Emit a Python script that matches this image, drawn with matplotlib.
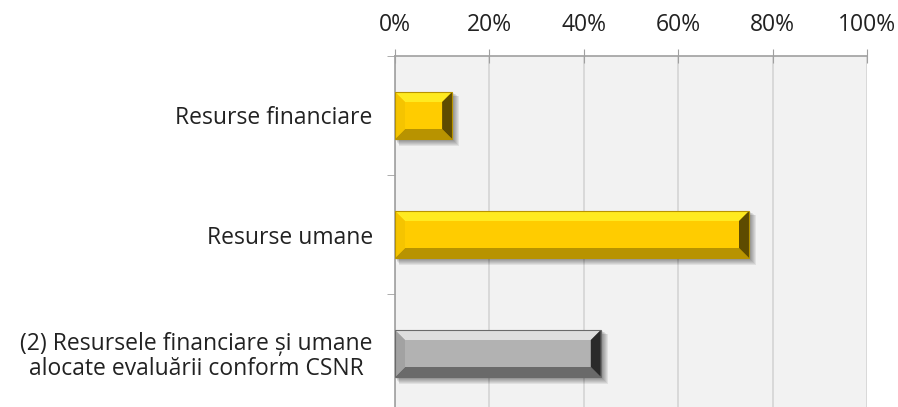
import matplotlib.pyplot as plt
from matplotlib.patches import Polygon, Rectangle
import numpy as np

plt.rcParams['font.family'] = ['Open Sans', 'DejaVu Sans']

categories = ['Resurse financiare', 'Resurse umane',
              '(2) Resursele financiare și umane\nalocate evaluării conform CSNR']
values = [12.1, 75.0, 43.6]
colors = ['gold', 'gold', 'gray']
ticks = [0, 20, 40, 60, 80, 100]

# culori bisel: cara, arriba, abajo, izquierda, derecha
palettes = {
    'gold': ['#FFCC00', '#FFEA20', '#B89300', '#F5C400', '#5E4B00'],
    'gray': ['#B2B2B2', '#DEDEDE', '#6A6A6A', '#A2A2A2', '#2A2A2A'],
}

W, H, dpi = 8.98, 4.07, 100
fig = plt.figure(figsize=(W, H), dpi=dpi)
left, right, top, bottom = 395, 867, 56, 413
ax = fig.add_axes([left / 898, 1 - bottom / 407, (right - left) / 898, (bottom - top) / 407])
ax.set_facecolor('#F2F2F2')

ax.set_xlim(0, 100)
ax.set_ylim(len(categories) - 0.5, -0.5)

# pixeles -> datos
px_x = 100 / (right - left)
px_y = len(categories) / (bottom - top)
bev = 10
h = 0.395

for i, (v, c) in enumerate(zip(values, colors)):
    face, up, down, lft, rgt = palettes[c]
    y0, y1 = i - h / 2, i + h / 2
    # sombra
    for k in range(6):
        off = 2 + k
        ax.add_patch(Rectangle((off * px_x * 0.6, y0 + off * px_y * 0.6), v + off * px_x * 0.4,
                               h + off * px_y * 0.4, color='black', alpha=0.07, lw=0, zorder=2))
    ax.add_patch(Rectangle((0, y0), v, h, facecolor=face, edgecolor='none', zorder=3))
    bx, by = bev * px_x, bev * px_y
    bx = min(bx, v / 2)
    outer = [(0, y0), (v, y0), (v, y1), (0, y1)]
    inner = [(bx, y0 + by), (v - bx, y0 + by), (v - bx, y1 - by), (bx, y1 - by)]
    ax.add_patch(Polygon([outer[0], outer[1], inner[1], inner[0]], color=up, lw=0, zorder=4))
    ax.add_patch(Polygon([outer[3], outer[2], inner[2], inner[3]], color=down, lw=0, zorder=4))
    ax.add_patch(Polygon([outer[0], outer[3], inner[3], inner[0]], color=lft, lw=0, zorder=4))
    ax.add_patch(Polygon([outer[1], outer[2], inner[2], inner[1]], color=rgt, lw=0, zorder=4))
    ax.add_patch(Rectangle((0, y0), v, h, fill=False, edgecolor=down, lw=0.8, zorder=5))

ax.xaxis.tick_top()
ax.set_xticks(ticks)
ax.set_xticklabels([f'{t}%' for t in ticks], fontsize=16.5, color='#222222')
ax.tick_params(axis='x', which='major', direction='inout', length=10, color='#A0A0A0', pad=9)
ax.grid(axis='x', color='#D4D4D4', lw=1.2, zorder=0)
ax.set_axisbelow(True)

ax.set_yticks(range(len(categories)))
ax.set_yticklabels(categories, fontsize=16.5, color='#222222', multialignment='center',
                   linespacing=1.05)
ax.tick_params(axis='y', which='major', length=0, pad=16)
ax.set_yticks([-0.5, 0.5, 1.5], minor=True)
ax.tick_params(axis='y', which='minor', direction='out', length=6, color='#A0A0A0')

for s in ['right', 'bottom']:
    ax.spines[s].set_visible(False)
for s in ['top', 'left']:
    ax.spines[s].set_color('#A0A0A0')
    ax.spines[s].set_linewidth(1.2)

fig.savefig('out.png', dpi=dpi)
